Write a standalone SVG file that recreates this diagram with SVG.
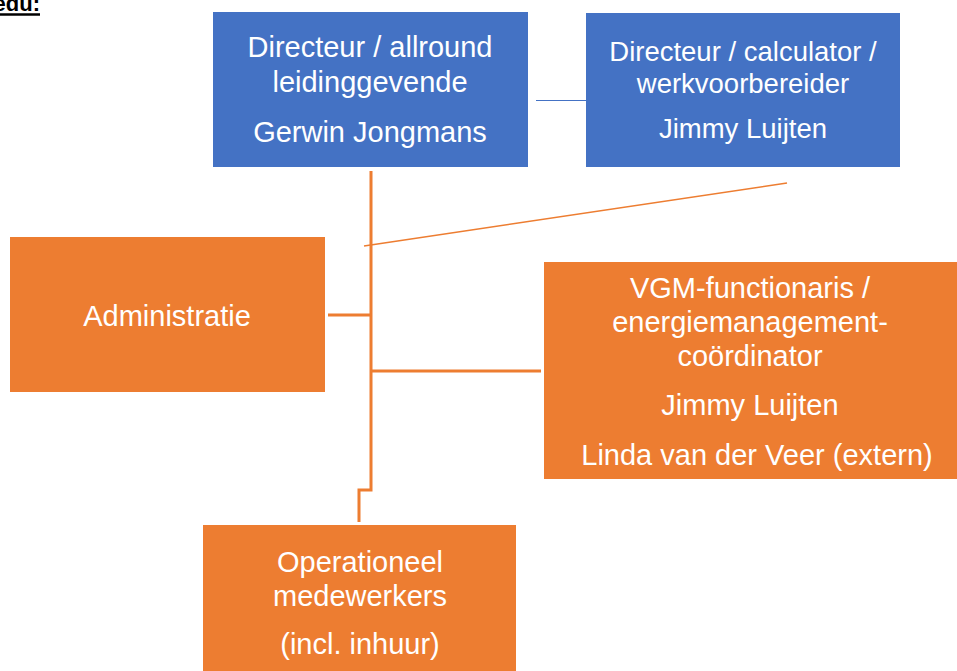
<svg xmlns="http://www.w3.org/2000/svg" width="957" height="671" viewBox="0 0 957 671">
<style>
.blue{fill:#4472C4}
.orange{fill:#ED7D31}
.t{font-family:"Liberation Sans",Arial,sans-serif;font-size:29px;fill:#ffffff;text-anchor:middle}
.s{font-size:27.5px}
.c{stroke:#ED7D31;stroke-width:3;fill:none}
</style>
<rect width="957" height="671" fill="#ffffff"/>
<g id="header">
<text x="40" y="11" font-family="Liberation Sans,Arial,sans-serif" font-size="22" font-weight="bold" text-anchor="end" fill="#000">edu:</text>
<line x1="0" y1="14.5" x2="40" y2="14.5" stroke="#000" stroke-width="2.5"/>
</g>
<g id="connectors">
<line x1="536" y1="100.5" x2="586" y2="100.5" stroke="#4472C4" stroke-width="1.2"/>
<polyline class="c" points="371,171 371,490 359,490 359,522"/>
<line x1="787" y1="183" x2="364" y2="246" stroke="#ED7D31" stroke-width="1.5"/>
<line class="c" x1="328" y1="315" x2="371" y2="315"/>
<line class="c" x1="371" y1="371" x2="541" y2="371"/>
</g>
<g id="directeur1">
<rect class="blue" x="213" y="12" width="315" height="155"/>
<text class="t" x="370" y="57">Directeur / allround</text>
<text class="t" x="370" y="92">leidinggevende</text>
<text class="t" x="370" y="142">Gerwin Jongmans</text>
</g>
<g id="directeur2">
<rect class="blue" x="586" y="13" width="314" height="154"/>
<text class="t s" x="743" y="61">Directeur / calculator /</text>
<text class="t s" x="743" y="93">werkvoorbereider</text>
<text class="t s" x="743" y="138">Jimmy Luijten</text>
</g>
<g id="administratie">
<rect class="orange" x="10" y="237" width="315" height="155"/>
<text class="t" x="167" y="326">Administratie</text>
</g>
<g id="vgm">
<rect class="orange" x="544" y="262" width="413" height="217"/>
<text class="t" x="750" y="298">VGM-functionaris /</text>
<text class="t" x="750" y="332">energiemanagement-</text>
<text class="t" x="750" y="366">coördinator</text>
<text class="t" x="750" y="415">Jimmy Luijten</text>
<text class="t" x="757" y="465">Linda van der Veer (extern)</text>
</g>
<g id="operationeel">
<rect class="orange" x="203" y="525" width="313" height="146"/>
<text class="t" x="360" y="572">Operationeel</text>
<text class="t" x="360" y="606">medewerkers</text>
<text class="t" x="360" y="654">(incl. inhuur)</text>
</g>
</svg>
